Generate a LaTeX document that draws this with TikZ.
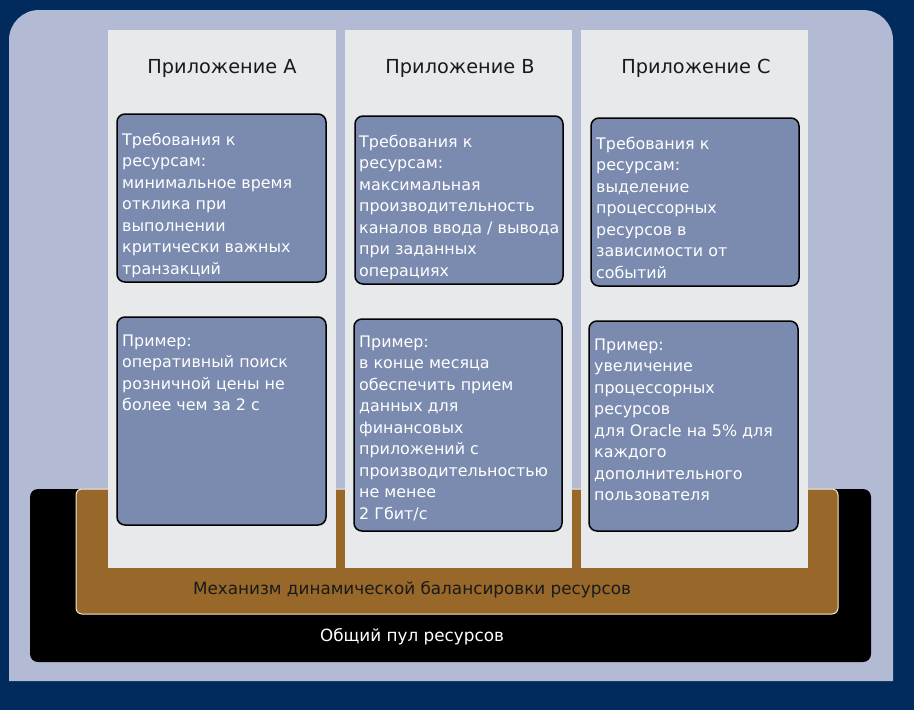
\documentclass[tikz,border=0pt]{standalone}
\usepackage{fontspec}
\setmainfont{DejaVu Sans}
\definecolor{navy}{HTML}{002B5C}
\definecolor{panel}{HTML}{B3BAD3}
\definecolor{column}{HTML}{E8E9EB}
\definecolor{card}{HTML}{7A8BAF}
\definecolor{bronze}{HTML}{976829}
\definecolor{cream}{HTML}{F3EAD8}
\definecolor{ink}{HTML}{1A1A1A}
\tikzset{
  colbox/.style={fill=column},
  cardbox/.style={fill=card, draw=black, line width=1.5pt, rounded corners=8pt},
  % multi-line text: the base anchor sits on the last line's baseline
  cardtext/.style={anchor=base west, inner sep=0pt, align=left, text=white,
    font=\fontsize{15.9}{21.5}\selectfont},
  apptitle/.style={inner sep=0pt, text=ink, font=\fontsize{19.3}{23}\selectfont},
  layertext/.style={inner sep=0pt, font=\fontsize{16.8}{21}\selectfont},
}
\begin{document}
\begin{tikzpicture}[x=1pt,y=-1pt]
\useasboundingbox (0,0) rectangle (914,710);
% backdrop
\fill[navy] (0,0) rectangle (914,710);
% light panel, rounded at the top only
\fill[panel] (9,681) -- (9,300) [rounded corners=30pt] -- (9,10) -- (893,10) -- (893,300) [sharp corners] -- (893,681) -- cycle;
% shared resource pool
\fill[black, rounded corners=8pt] (30,489) rectangle (871,662);
% balancing layer
\draw[fill=bronze, draw=cream, line width=1pt, rounded corners=6pt] (76,489) rectangle (838,614);
% application columns
\fill[colbox] (108,30) rectangle (336,568);
\fill[colbox] (345,30) rectangle (572,568);
\fill[colbox] (581,30) rectangle (808,568);
% requirement and example cards
\draw[cardbox] (117,114) rectangle (326,282);
\draw[cardbox] (117,317) rectangle (326,525);
\draw[cardbox] (355,116) rectangle (563,284);
\draw[cardbox] (354,319) rectangle (562,531);
\draw[cardbox] (591,118) rectangle (799,286);
\draw[cardbox] (589,321) rectangle (798,531);
% column titles
\node[apptitle] (titleA) at (222,68) {Приложение A};
\node[apptitle] (titleB) at (460,68) {Приложение B};
\node[apptitle] (titleC) at (696,68) {Приложение C};
% card texts (y = baseline of the last line)
\node[cardtext] (reqA) at (122,274) {Требования к\\ресурсам:\\минимальное время\\отклика при\\выполнении\\критически важных\\транзакций};
\node[cardtext] (exA) at (122,410.5) {Пример:\\оперативный поиск\\розничной цены не\\более чем за 2 с};
\node[cardtext] (reqB) at (359,276) {Требования к\\ресурсам:\\максимальная\\производительность\\каналов ввода / вывода\\при заданных\\операциях};
\node[cardtext] (exB) at (359,519) {Пример:\\в конце месяца\\обеспечить прием\\данных для\\финансовых\\приложений с\\производительностью\\не менее\\2 Гбит/с};
\node[cardtext] (reqC) at (596,278) {Требования к\\ресурсам:\\выделение\\процессорных\\ресурсов в\\зависимости от\\событий};
\node[cardtext] (exC) at (594,500.5) {Пример:\\увеличение\\процессорных\\ресурсов\\для Oracle на 5\% для\\каждого\\дополнительного\\пользователя};
% layer captions
\node[layertext, text=ink] (balance) at (412,590) {Механизм динамической балансировки ресурсов};
\node[layertext, text=white] (pool) at (412,637) {Общий пул ресурсов};
\end{tikzpicture}
\end{document}
